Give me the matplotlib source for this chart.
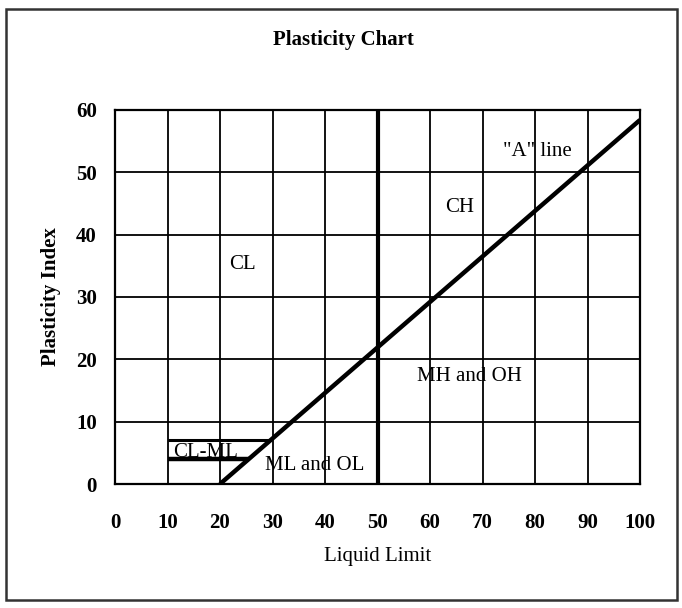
import matplotlib
matplotlib.use("Agg")
import matplotlib.pyplot as plt
from matplotlib.patches import Rectangle

# Axis ticks
ll_ticks = [0, 10, 20, 30, 40, 50, 60, 70, 80, 90, 100]
pi_ticks = [0, 10, 20, 30, 40, 50, 60]

# Casagrande "A" line end points (Liquid Limit, Plasticity Index)
a_line_ll = [20, 100]
a_line_pi = [0, 58.4]

# Boundary between low and high plasticity
ll_boundary = 50

# CL-ML zone limits
clml_upper_ll = [10, 29.6]
clml_upper_pi = [7, 7]
clml_lower_ll = [10, 25.5]
clml_lower_pi = [4, 4]

# Soil group labels
zone_names = ["CL", "CH", '"A" line', "MH and OH", "CL-ML", "ML and OL"]
zone_ll = [24.2, 65.7, 80.4, 67.6, 17.2, 38.0]
zone_pi = [35.2, 44.3, 53.3, 17.2, 5.1, 3.0]

serif = ["Liberation Serif", "DejaVu Serif"]
plt.rcParams["font.family"] = serif

fig = plt.figure(figsize=(6.82, 6.08), dpi=100)
ax = fig.add_axes([115 / 682, 124 / 608, 525 / 682, 374 / 608])

ax.set_xlim(0, 100)
ax.set_ylim(0, 60)
ax.set_xticks(ll_ticks)
ax.set_yticks(pi_ticks)
ax.set_xticklabels([str(v) for v in ll_ticks], fontsize=15, fontweight="bold")
ax.set_yticklabels([str(v) for v in pi_ticks], fontsize=15, fontweight="bold")
ax.tick_params(axis="both", length=0)
ax.tick_params(axis="x", pad=21)
ax.tick_params(axis="y", pad=13)

ax.grid(True, color="black", linewidth=1.3)
ax.set_axisbelow(True)
for sp in ax.spines.values():
    sp.set_linewidth(1.6)

ax.plot(a_line_ll, a_line_pi, color="black", linewidth=3.2, solid_capstyle="butt")
ax.axvline(ll_boundary, color="black", linewidth=3.0)
ax.plot(clml_upper_ll, clml_upper_pi, color="black", linewidth=2.2, solid_capstyle="butt")
ax.plot(clml_lower_ll, clml_lower_pi, color="black", linewidth=3.2, solid_capstyle="butt")

for name, x, y in zip(zone_names, zone_ll, zone_pi):
    ax.text(x, y, name, fontsize=15, ha="center", va="center")

ax.set_xlabel("Liquid Limit", fontsize=15, labelpad=10)
ax.set_ylabel("Plasticity Index", fontsize=15, labelpad=11, fontweight="bold")

fig.text(343 / 682, 1 - 40 / 608, "Plasticity Chart", fontsize=15,
         fontweight="bold", ha="center", va="center")

# Outer frame around the whole chart
fig.add_artist(Rectangle((6 / 682, 8 / 608), 671 / 682, 591 / 608,
                         transform=fig.transFigure, fill=False,
                         edgecolor="#333333", linewidth=1.8))

fig.savefig("out.png", dpi=100)
